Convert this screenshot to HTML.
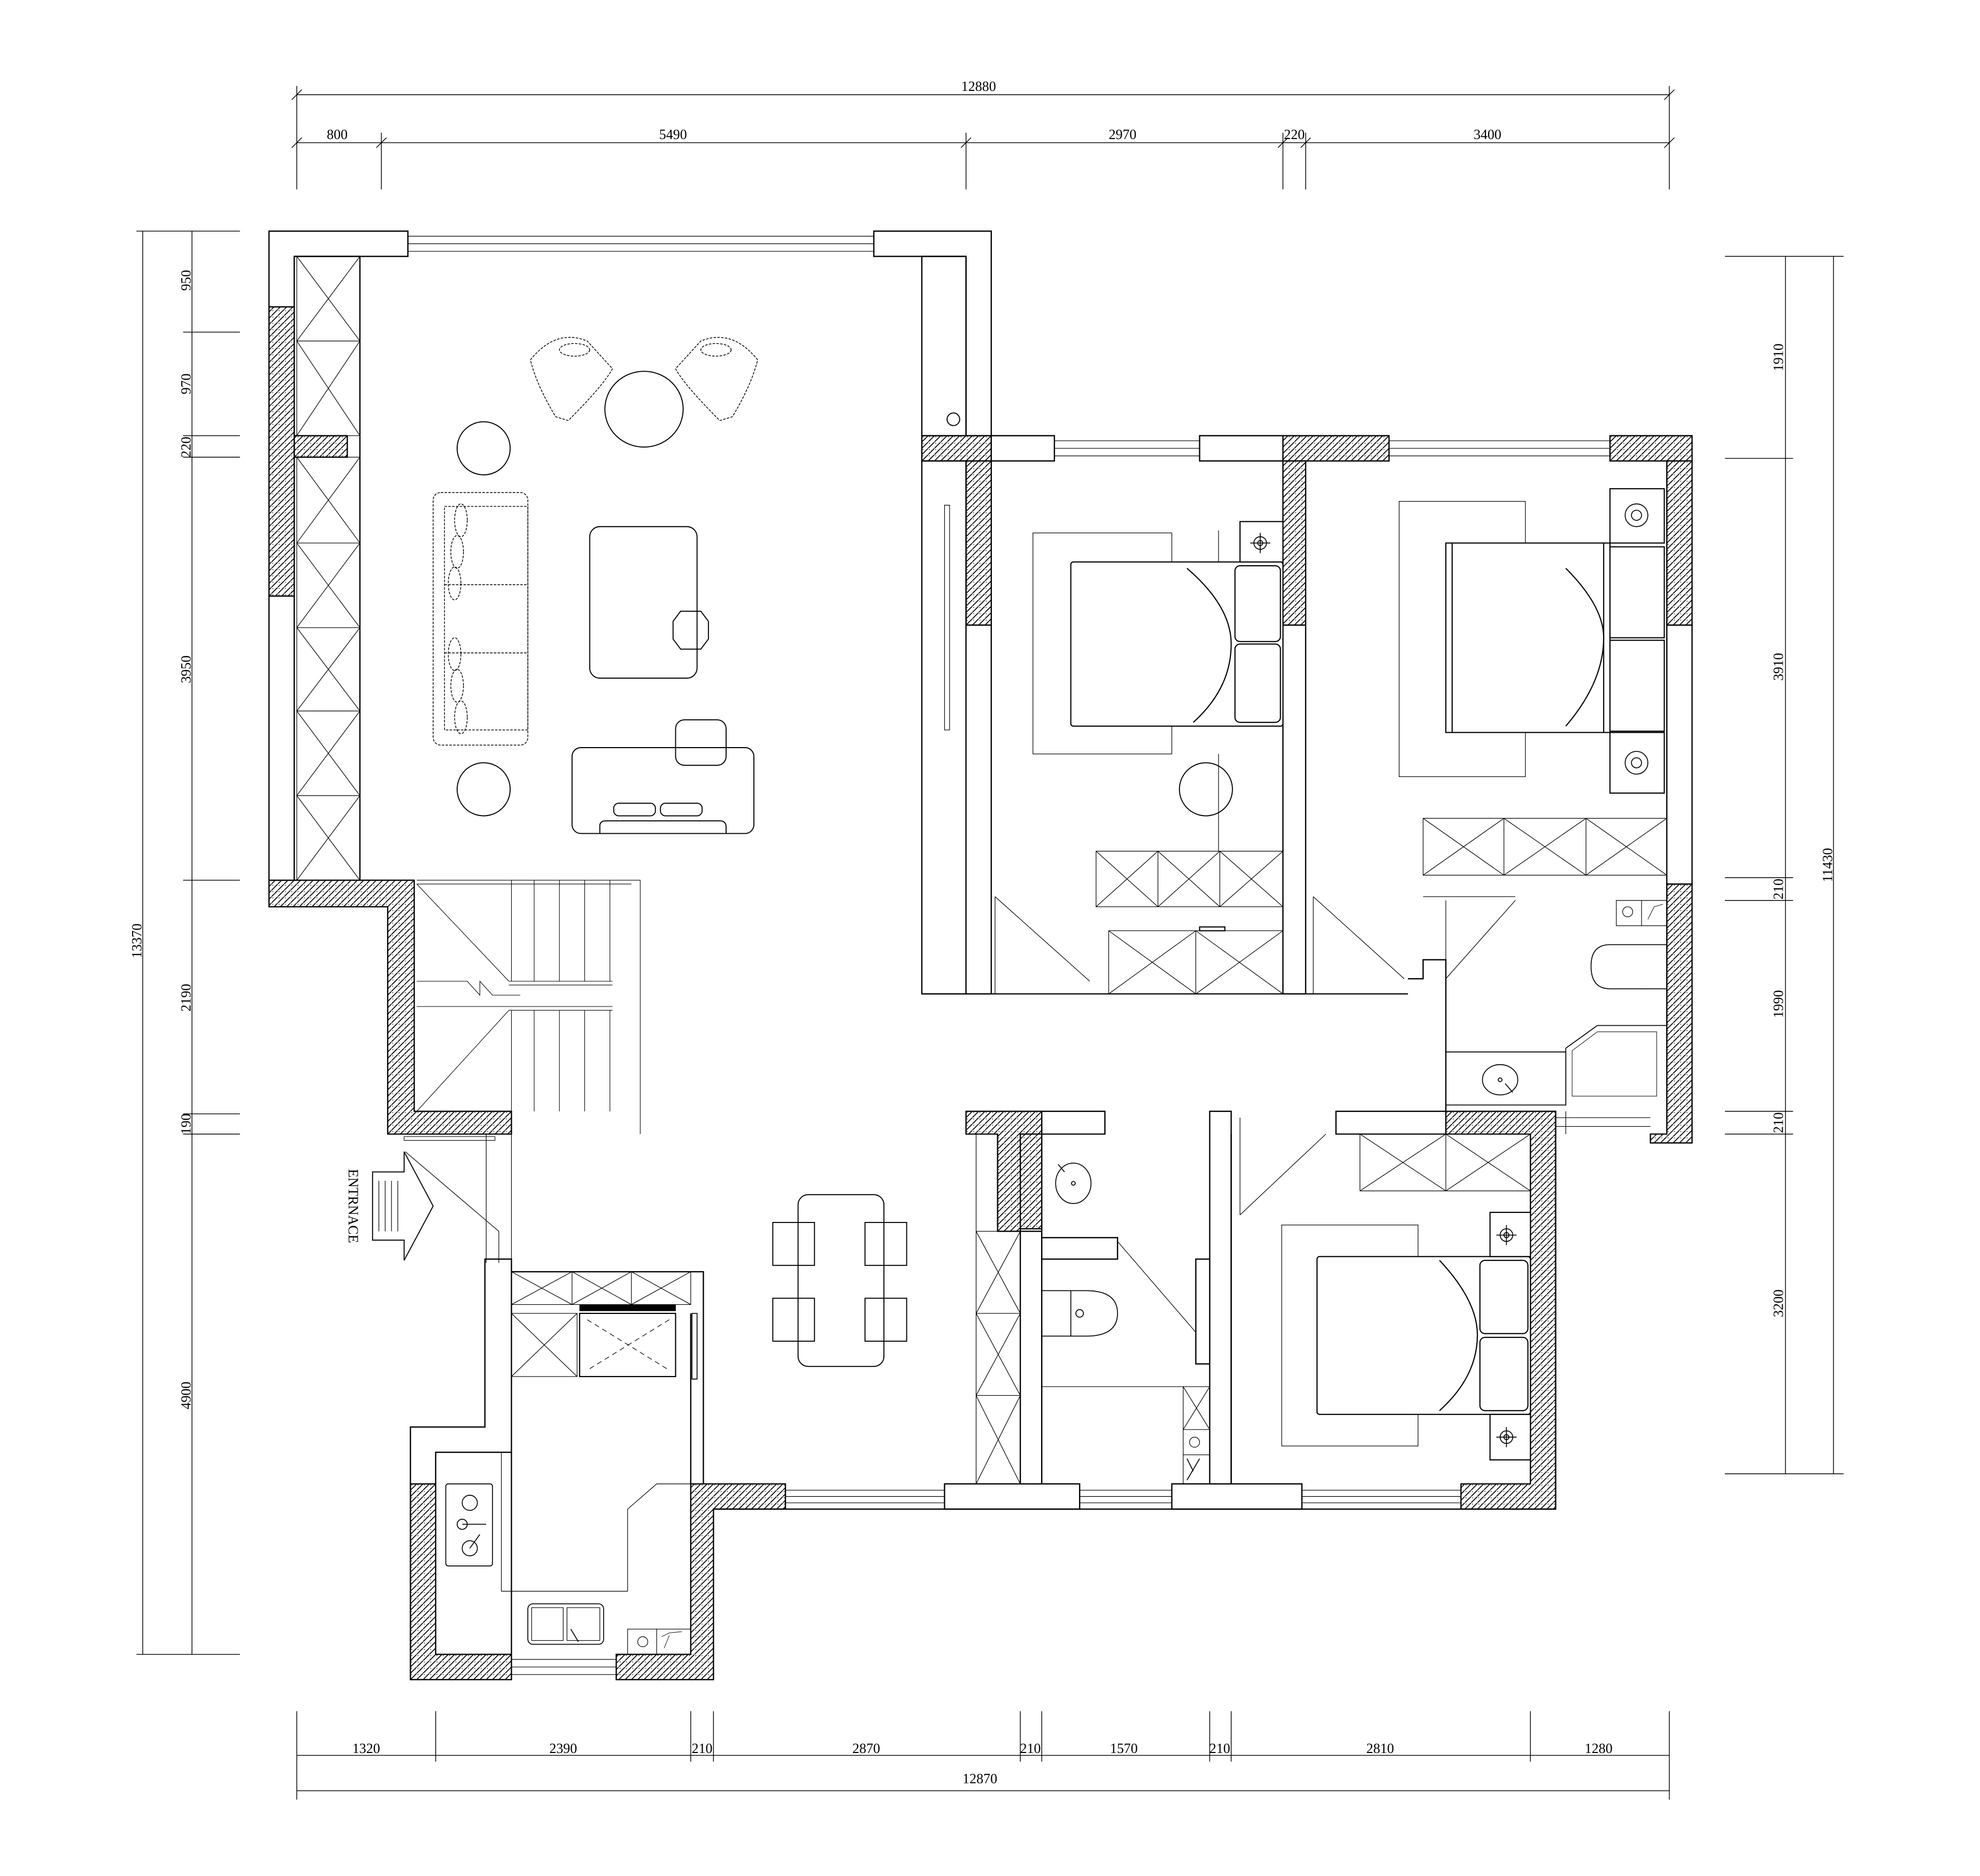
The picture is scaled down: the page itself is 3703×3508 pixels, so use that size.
<!DOCTYPE html>
<html><head><meta charset="utf-8"><style>
html,body{margin:0;padding:0;background:#fff}
svg{display:block}
text{font-family:"Liberation Serif",serif;font-size:11px;fill:#000}
</style></head><body>
<svg width="3703" height="3508" viewBox="0 0 1568 1485.5" xmlns="http://www.w3.org/2000/svg">
<defs>
<pattern id="h" patternUnits="userSpaceOnUse" width="5" height="5">
<rect width="5" height="5" fill="#fff"/>
<path d="M0,5 L5,0" stroke="#000" stroke-width="0.7"/>
<circle cx="1" cy="1" r="0.35" fill="#000"/>
</pattern>
</defs>
<rect width="1568" height="1485.5" fill="#fff"/>
<g fill="none" stroke="#000" stroke-width="0.6">
<path d="M235,75H1322M235,113H1322M235,68V150M1322,68V150M302,105V150M765,105V150M1016,105V150M1034,105V150"/>
<path d="M113,183V1310M152,183V1310M108,183H190M108,1310H190M145,263H190M145,345H190M145,362H190M145,697H190M145,882H190M145,898H190"/>
<path d="M1414,203V1167M1452,203V1167M1366,203H1460M1366,1167H1460M1366,363H1420M1366,695H1420M1366,713H1420M1366,880H1420M1366,898H1420"/>
<path d="M235,1390H1322M235,1418H1322M235,1355V1425M1322,1355V1425M345,1355V1395M547,1355V1395M565,1355V1395M808,1355V1395M825,1355V1395M958,1355V1395M975,1355V1395M1212,1355V1395"/>
</g>
<g stroke-width="0.6" stroke="#000">
<path d="M231,79L239,71M231,117L239,109M298,117L306,109M761,117L769,109M1012,117L1020,109M1030,117L1038,109M1318,117L1326,109M1318,79L1326,71"/>
</g>
<g text-anchor="middle">
<text x="775" y="72">12880</text>
<text x="267" y="110">800</text><text x="533" y="110">5490</text><text x="889" y="110">2970</text><text x="1025" y="110">220</text><text x="1178" y="110">3400</text>
<text x="290" y="1388">1320</text><text x="446" y="1388">2390</text><text x="556" y="1388">210</text><text x="686" y="1388">2870</text><text x="816" y="1388">210</text><text x="890" y="1388">1570</text><text x="966" y="1388">210</text><text x="1093" y="1388">2810</text><text x="1266" y="1388">1280</text>
<text x="776" y="1412">12870</text>
<g transform="rotate(-90)">
<text x="-222" y="151">950</text><text x="-304" y="151">970</text><text x="-354" y="151">220</text><text x="-530" y="151">3950</text><text x="-790" y="151">2190</text><text x="-890" y="151">190</text><text x="-1105" y="151">4900</text><text x="-745" y="112">13370</text>
<text x="-283" y="1412">1910</text><text x="-528" y="1412">3910</text><text x="-704" y="1412">210</text><text x="-795" y="1412">1990</text><text x="-889" y="1412">210</text><text x="-1032" y="1412">3200</text><text x="-685" y="1451">11430</text>
</g>
</g>
<g fill="url(#h)" stroke="#000" stroke-width="1">
<rect x="213" y="243" width="20" height="229"/>
<rect x="233" y="345" width="42" height="17"/>
<path d="M213,697H328V880H405V898H307V718H213Z"/>
<rect x="730" y="345" width="55" height="20"/>
<rect x="765" y="365" width="20" height="130"/>
<rect x="1016" y="345" width="84" height="20"/>
<rect x="1016" y="365" width="18" height="130"/>
<rect x="1275" y="345" width="65" height="20"/>
<rect x="1320" y="365" width="20" height="130"/>
<path d="M1320,700H1340V905H1307V898H1320Z"/>
<path d="M765,880H825V898H808V975H790V898H765Z"/>
<rect x="808" y="898" width="17" height="75"/>
<path d="M1145,880H1232V1195H1157V1175H1212V898H1145Z"/>
<path d="M547,1175H622V1195H565V1330H488V1310H547Z"/>
<path d="M325,1175H345V1310H405V1330H325Z"/>
</g>
<g fill="#fff" stroke="#000" stroke-width="1">
<path d="M213,183H323V203H233V243H213Z"/>
<rect x="213" y="472" width="20" height="225"/>
<path d="M692,183H785V345H765V203H692Z"/>
<path d="M730,203H765V345H730Z" fill="none"/>
<path d="M730,365H765V787H730Z" fill="none"/>
<rect x="950" y="345" width="66" height="20"/>
<rect x="785" y="345" width="50" height="20"/>
<path d="M765,495H785V787H765Z"/>
<path d="M1016,495H1034V787H1016Z"/>
<path d="M1320,495H1340V700H1320Z"/>
<path d="M1115,775H1127V760H1145V880H1058V898H1145" fill="none"/>
<rect x="748" y="1175" width="107" height="20"/>
<rect x="928" y="1175" width="103" height="20"/>
<path d="M808,975H825V1175H808Z"/>
<path d="M958,880H975V1175H958Z"/>
<path d="M825,880H875V898H825Z"/>
<path d="M825,980H885V997H825Z"/>
<path d="M947,997H958V1080H947Z"/>
<path d="M384,997H405V1150H345V1175H325V1130H384Z"/>
</g>
<g fill="none" stroke="#000" stroke-width="1">
<path d="M233,203V697M285,203V697M233,203H285"/>
<path d="M730,787H1115"/>
<path d="M565,1195H1232"/>
<path d="M405,1007H557V1175M547,1040V1175"/>
<path d="M405,1150V1310"/>
<path d="M825,1175V898M975,1175V898"/>
</g>
<g fill="none" stroke="#000" stroke-width="0.5">
<path d="M323,187H692M323,193H692M323,199H692"/>
<path d="M835,349H950M835,355H950M835,361H950"/>
<path d="M1100,349H1275M1100,355H1275M1100,361H1275"/>
<path d="M622,1180H748M622,1185H748M622,1190H748"/>
<path d="M855,1180H928M855,1185H928M855,1190H928"/>
<path d="M1031,1180H1157M1031,1185H1157M1031,1190H1157"/>
<path d="M405,1314H488M405,1320H488M405,1326H488"/>
<path d="M1232,880V898M1240,880V898M1232,885H1307M1232,892H1307"/>
</g>
<g fill="none" stroke="#000" stroke-width="0.5">
<path d="M235,203H285V345H235ZM235,270H285M235,203L285,270M285,203L235,270M235,270L285,345M285,270L235,345"/>
<path d="M235,362H285V697H235ZM235,430H285M235,497H285M235,563H285M235,630H285
M235,362L285,430M285,362L235,430M235,430L285,497M285,430L235,497M235,497L285,563M285,497L235,563M235,563L285,630M285,563L235,630M235,630L285,697M285,630L235,697"/>
<path d="M868,674H1016V718H868ZM917,674V718M966,674V718M868,674L917,718M917,674L868,718M917,674L966,718M966,674L917,718M966,674L1016,718M1016,674L966,718"/>
<path d="M878,737H1016V787H878ZM947,737V787M878,737L947,787M947,737L878,787M947,737L1016,787M1016,737L947,787"/>
<path d="M1127,648H1320V693H1127ZM1191,648V693M1256,648V693M1127,648L1191,693M1191,648L1127,693M1191,648L1256,693M1256,648L1191,693M1256,648L1320,693M1320,648L1256,693"/>
<path d="M1077,898H1212V943H1077ZM1145,898V943M1077,898L1145,943M1145,898L1077,943M1145,898L1212,943M1212,898L1145,943"/>
<path d="M773,898V1175M773,975H808M773,1040H808M773,1105H808M773,1175H808M773,975L808,1040M808,975L773,1040M773,1040L808,1105M808,1040L773,1105M773,1105L808,1175M808,1105L773,1175"/>
<path d="M405,1007H547V1033H405ZM453,1007V1033M500,1007V1033M405,1007L453,1033M453,1007L405,1033M453,1007L500,1033M500,1007L453,1033M500,1007L547,1033M547,1007L500,1033"/>
<path d="M405,1040H457V1090H405ZM405,1040L457,1090M457,1040L405,1090"/>
<path d="M459,1040H535V1090H459Z" stroke-width="0.9"/>
<path d="M465,1045L530,1085M530,1045L465,1085" stroke-dasharray="4,3"/>
<path d="M937,1098H958V1132H937ZM937,1098L958,1132M958,1098L937,1132M937,1132H958V1152H937ZM937,1152H958V1175H937Z"/>
<circle cx="946" cy="1142" r="4"/>
<path d="M1280,713H1300V733H1280ZM1300,713H1320V733H1300Z"/>
<circle cx="1289" cy="722" r="4"/>
<path d="M497,1290H520V1310H497ZM520,1290H547V1310H520Z"/><circle cx="509" cy="1300" r="4"/>
<path d="M1127,710H1200"/>
</g>
<g fill="none" stroke="#000" stroke-width="0.5">
<path d="M788,710V787M788,710L863,777M1040,710V787M1040,710L1112,775M1200,713L1145,775V713M982,885V962M982,962L1050,898"/>
<path d="M885,983L947,1055M395,975V1000M395,975L321,912M385,898V1000M405,898V1000"/>
<path d="M748,400H752V578H748Z"/>
<path d="M825,1098H937"/>
<path d="M397,1150V1260H497V1195L520,1175H547"/>
</g>
<g fill="none" stroke="#000" stroke-width="0.45">
<path d="M330,697H507V898M330,700H500"/>
<path d="M405,697V777M423,697V777M443,697V777M463,697V777M483,697V777M403,777H485M403,780H485"/>
<path d="M405,800V880M423,800V880M443,800V880M463,800V880M483,800V880M403,800H485M403,797H485"/>
<path d="M330,700L403,777M403,800L330,880M330,777H370L380,788V777L390,788H412M330,797H403"/>
<path d="M320,903H392V900H320Z"/>
</g>
<g fill="none" stroke="#000" stroke-width="0.8">
<circle cx="383" cy="355" r="21"/>
<ellipse cx="510" cy="324" rx="31" ry="30"/>
<circle cx="383" cy="625" r="21"/>
<rect x="467" y="417" width="85" height="120" rx="8"/>
<path d="M539,484L555,484L561,492L561,506L555,514L539,514L533,506L533,492Z"/>
<rect x="453" y="592" width="144" height="68" rx="7"/>
<rect x="535" y="570" width="40" height="36" rx="7"/>
<path d="M475,660V654Q475,650 480,650H570Q575,650 575,655V660"/>
<rect x="486" y="636" width="33" height="10" rx="4"/><rect x="523" y="636" width="33" height="10" rx="4"/>
<rect x="632" y="946" width="68" height="136" rx="8"/>
<rect x="612" y="968" width="33" height="34"/><rect x="685" y="968" width="33" height="34"/>
<rect x="612" y="1028" width="33" height="34"/><rect x="685" y="1028" width="33" height="34"/>
<circle cx="955" cy="625" r="21"/>
<circle cx="755" cy="332" r="5"/>
</g>
<g fill="none" stroke="#000" stroke-width="0.6" stroke-dasharray="2,1">
<rect x="343" y="390" width="75" height="200" rx="6"/>
<path d="M352,401H418V578H352ZM352,463H418M352,517H418"/>
<ellipse cx="365" cy="412" rx="5" ry="13"/><ellipse cx="362" cy="437" rx="5" ry="13"/><ellipse cx="360" cy="462" rx="5" ry="13"/>
<ellipse cx="360" cy="518" rx="5" ry="13"/><ellipse cx="362" cy="543" rx="5" ry="13"/><ellipse cx="365" cy="568" rx="5" ry="13"/>
<path d="M420,285Q440,260 465,270L485,292Q478,305 450,333L440,330Q425,305 420,285Z"/>
<path d="M600,285Q580,260 555,270L535,292Q542,305 570,333L580,330Q595,305 600,285Z"/>
<ellipse cx="455" cy="277" rx="12" ry="5"/><ellipse cx="567" cy="277" rx="12" ry="5"/>
</g>
<g fill="none" stroke="#000" stroke-width="0.5">
<rect x="818" y="422" width="110" height="175"/>
<rect x="1108" y="397" width="100" height="218"/>
<rect x="1015" y="970" width="108" height="175"/>
<path d="M965,597V674M965,420V445"/>
</g>
<g fill="#fff" stroke="#000" stroke-width="0.9">
<rect x="848" y="445" width="168" height="130" rx="2"/>
<rect x="978" y="448" width="36" height="60" rx="4"/><rect x="978" y="510" width="36" height="62" rx="4"/>
<path d="M940,450Q975,480 975,510Q975,545 945,572" fill="none"/>
<rect x="1145" y="430" width="130" height="150"/>
<path d="M1150,430V580M1270,430V580" fill="none"/>
<rect x="1275" y="387" width="43" height="43"/><rect x="1275" y="580" width="43" height="48"/>
<rect x="1275" y="433" width="43" height="72"/><rect x="1275" y="507" width="43" height="72"/>
<path d="M1240,450Q1270,480 1270,505Q1270,540 1240,575" fill="none"/>
<rect x="1043" y="995" width="169" height="125" rx="2"/>
<rect x="1172" y="998" width="38" height="58" rx="4"/><rect x="1172" y="1059" width="38" height="58" rx="4"/>
<path d="M1140,998Q1170,1030 1170,1057Q1170,1090 1140,1117" fill="none"/>
<rect x="982" y="413" width="34" height="32"/>
<rect x="1180" y="960" width="32" height="35"/><rect x="1180" y="1120" width="32" height="36"/>
<rect x="950" y="734" width="20" height="3"/>
</g>
<g fill="none" stroke="#000" stroke-width="0.7">
<circle cx="998" cy="430" r="5"/><circle cx="998" cy="430" r="2"/><path d="M990,430H1006M998,422V438"/>
<circle cx="1296" cy="408" r="9"/><circle cx="1296" cy="408" r="4"/>
<circle cx="1296" cy="604" r="9"/><circle cx="1296" cy="604" r="4"/>
<circle cx="1193" cy="978" r="5"/><circle cx="1193" cy="978" r="2"/><path d="M1185,978H1201M1193,970V986"/>
<circle cx="1193" cy="1138" r="5"/><circle cx="1193" cy="1138" r="2"/><path d="M1185,1138H1201M1193,1130V1146"/>
</g>
<g fill="none" stroke="#000" stroke-width="0.7">
<path d="M1300,748H1320V783H1300"/>
<path d="M1300,748H1275Q1260,748 1260,765Q1260,783 1275,783H1300"/>
<path d="M1145,833H1240V875H1145"/>
<ellipse cx="1188" cy="855" rx="14" ry="12"/><circle cx="1188" cy="855" r="1.5"/><path d="M1192,858L1198,865"/>
<path d="M1265,812H1320M1240,830L1265,812M1240,830V875"/>
<path d="M1245,832L1265,817H1312V868H1245Z" stroke-width="0.4"/>
<path d="M1305,728L1310,718L1317,716" stroke-width="0.4"/>
<ellipse cx="850" cy="937" rx="14" ry="16"/><circle cx="850" cy="937" r="1.5"/><path d="M843,928L838,922"/>
<path d="M825,1022H860Q885,1022 885,1040Q885,1058 860,1058H825M848,1022V1058"/>
<circle cx="855" cy="1040" r="3"/>
<path d="M940,1155L945,1165M940,1172L950,1155"/>
<rect x="353" y="1175" width="37" height="65" rx="2"/>
<circle cx="372" cy="1190" r="6"/><circle cx="366" cy="1207" r="4"/><circle cx="372" cy="1226" r="6"/>
<path d="M366,1207H385M372,1226L380,1215"/>
<rect x="418" y="1270" width="60" height="32" rx="4"/>
<path d="M421,1273H446V1299H421ZM449,1273H475V1299H449Z" stroke-width="0.5"/>
<path d="M452,1290L458,1300"/>
<path d="M524,1296L530,1293L540,1292M526,1305L530,1295" stroke-width="0.4"/>
<path d="M459,1033H535V1038H459Z" fill="#000" stroke-width="0.3"/>
<path d="M548,1040H552V1092H548Z"/>
</g>
<g fill="none" stroke="#000" stroke-width="0.8">
<path d="M320,912L343,955L320,998V982H295V928H320Z"/>
<path d="M300,935V975M305,935V975M310,935V975M315,935V975" stroke-width="0.5"/>
</g>
<text x="0" y="0" font-size="13" transform="translate(276,955) rotate(90)" text-anchor="middle">ENTRNACE</text>
</svg>
</body></html>
